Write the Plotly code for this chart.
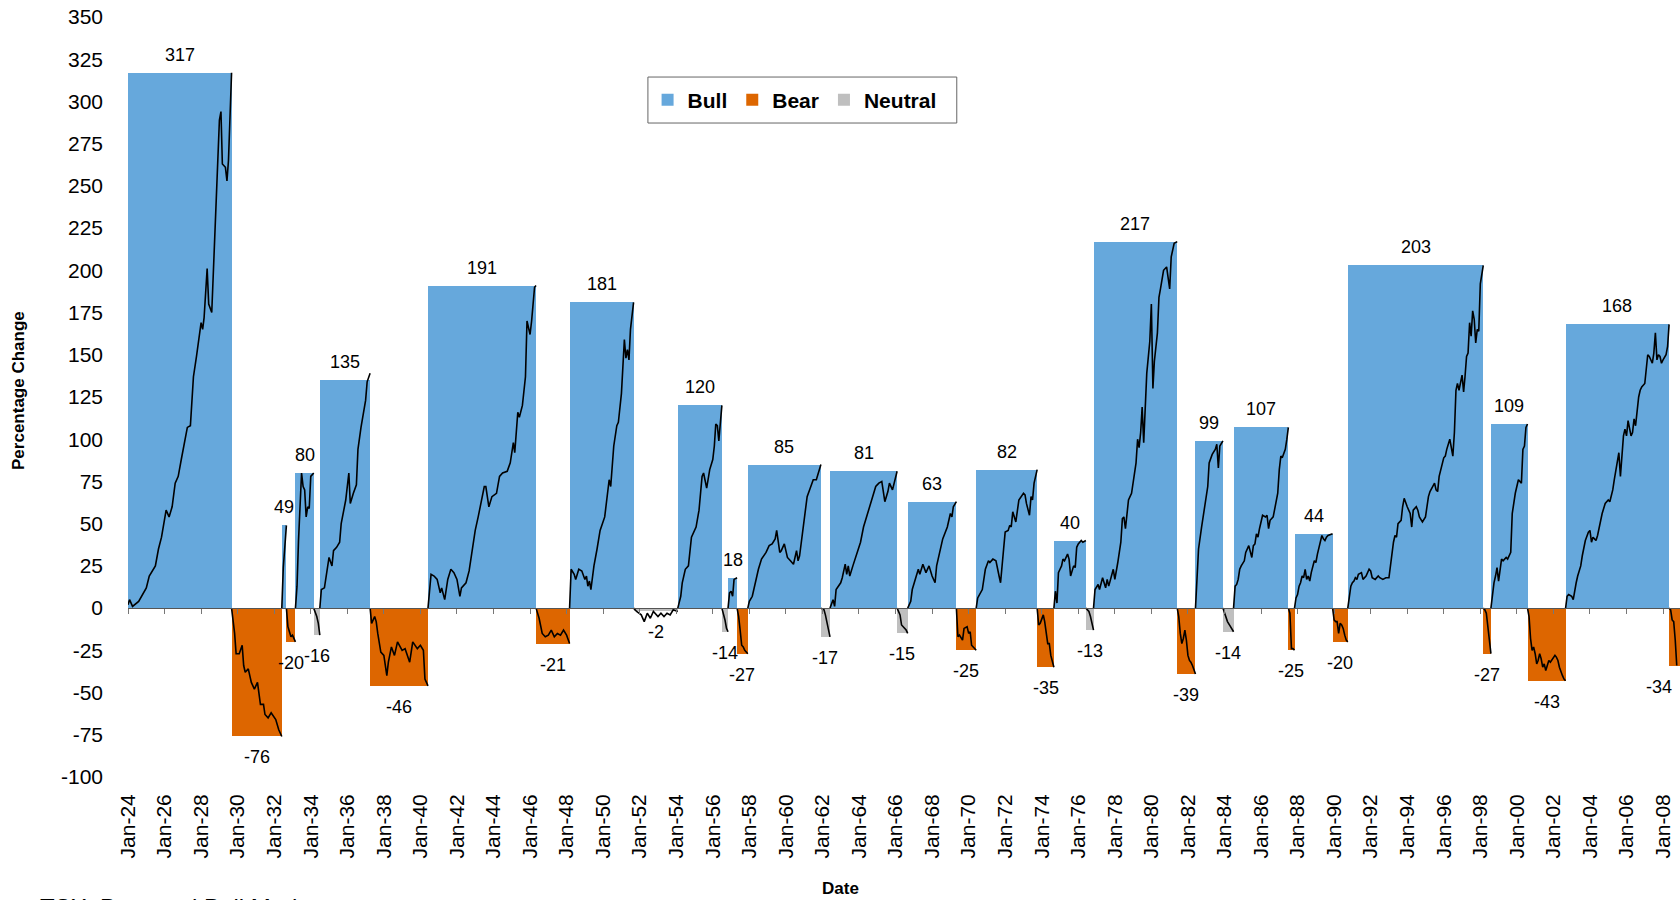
import pandas as pd
import plotly.graph_objects as go

# ---- market phases (TSX, percentage change over each phase) ----
phase_kind = ["Bull", "Bear", "Bull", "Bear", "Bull", "Neutral", "Bull", "Bear", "Bull", "Bear",
              "Bull", "Neutral", "Bull", "Neutral", "Bull", "Bear", "Bull", "Neutral", "Bull", "Neutral",
              "Bull", "Bear", "Bull", "Bear", "Bull", "Neutral", "Bull", "Bear", "Bull", "Neutral",
              "Bull", "Bear", "Bull", "Bear", "Bull", "Bear", "Bull", "Bear", "Bull", "Bear"]
phase_change = [317, -76, 49, -20, 80, -16, 135, -46, 191, -21,
                181, -2, 120, -14, 18, -27, 85, -17, 81, -15,
                63, -25, 82, -35, 40, -13, 217, -39, 99, -14,
                107, -25, 44, -20, 203, -27, 109, -43, 168, -34]
phase_start = ["1924-01", "1929-09", "1932-06", "1932-09", "1933-03", "1934-03", "1934-07", "1937-04",
               "1940-06", "1946-05", "1948-03", "1951-09", "1954-02", "1956-07", "1956-11", "1957-05",
               "1957-12", "1961-12", "1962-06", "1966-02", "1966-09", "1969-05", "1970-06", "1973-10",
               "1974-09", "1976-06", "1976-11", "1981-06", "1982-06", "1983-12", "1984-07", "1987-07",
               "1987-11", "1989-12", "1990-10", "1998-03", "1998-08", "2000-08", "2002-09", "2008-05"]
last_phase_end = "2008-12-05"

# y-axis ticks
y_ticks = list(range(-100, 351, 25))

# ---- cumulative change within each phase, (month, %) ----
p1924_bull = [("1924-01", 2), ("1924-02", 5), ("1924-04", 1), ("1924-08", 4), ("1925-01", 12), ("1925-03", 19),
              ("1925-07", 25), ("1925-09", 35), ("1925-11", 42), ("1926-02", 58), ("1926-04", 54), ("1926-06", 60),
              ("1926-08", 74), ("1926-10", 78), ("1926-12", 88), ("1927-02", 98), ("1927-04", 107), ("1927-06", 108),
              ("1927-07", 123), ("1927-08", 137), ("1927-10", 149), ("1928-01", 169), ("1928-02", 165),
              ("1928-03", 172), ("1928-05", 201), ("1928-06", 180), ("1928-08", 175), ("1928-10", 222),
              ("1928-11", 244), ("1929-01", 289), ("1929-02", 294), ("1929-03", 263), ("1929-05", 261),
              ("1929-06", 253), ("1929-07", 265), ("1929-09", 317)]
p1929_bear = [("1929-09", 0), ("1929-11", -15), ("1929-12", -27), ("1930-02", -27), ("1930-04", -22),
              ("1930-05", -34), ("1930-06", -38), ("1930-08", -36), ("1930-10", -44), ("1930-12", -48),
              ("1931-02", -44), ("1931-04", -57), ("1931-06", -57), ("1931-07", -63), ("1931-09", -65),
              ("1931-11", -62), ("1932-02", -66), ("1932-04", -72), ("1932-06", -76)]
p1932_bull = [("1932-06", 0), ("1932-07", 24), ("1932-09", 49)]
p1932_bear = [("1932-09", 0), ("1932-10", -11), ("1932-11", -14), ("1932-12", -17), ("1933-01", -16), ("1933-03", -20)]
p1933_bull = [("1933-03", 0), ("1933-04", 13), ("1933-05", 40), ("1933-07", 80), ("1933-08", 72), ("1933-09", 70),
              ("1933-10", 54), ("1933-11", 60), ("1933-12", 59), ("1934-01", 78), ("1934-03", 80)]
p1934_flat = [("1934-03", 0), ("1934-04", -2), ("1934-05", -5), ("1934-06", -9), ("1934-07", -16)]
p1934_bull = [("1934-07", 0), ("1934-08", 11), ("1934-10", 12), ("1934-12", 25), ("1935-01", 30), ("1935-03", 25),
              ("1935-04", 34), ("1935-06", 36), ("1935-08", 39), ("1935-09", 50), ("1935-12", 64), ("1936-02", 80),
              ("1936-03", 62), ("1936-05", 68), ("1936-07", 73), ("1936-08", 94), ("1936-10", 107),
              ("1937-01", 123), ("1937-02", 134), ("1937-04", 139)]
p1937_bear = [("1937-04", 0), ("1937-05", -9), ("1937-07", -5), ("1937-08", -8), ("1937-09", -15), ("1937-11", -26),
              ("1938-01", -28), ("1938-03", -40), ("1938-04", -32), ("1938-06", -23), ("1938-08", -28),
              ("1938-10", -20), ("1939-01", -25), ("1939-03", -24), ("1939-06", -32), ("1939-08", -20),
              ("1939-11", -24), ("1940-01", -22), ("1940-03", -25), ("1940-04", -42), ("1940-06", -46)]
p1940_bull = [("1940-06", 0), ("1940-08", 20), ("1940-10", 19), ("1940-12", 17), ("1941-02", 9), ("1941-03", 12),
              ("1941-05", 5), ("1941-07", 17), ("1941-09", 23), ("1941-11", 21), ("1942-01", 17), ("1942-03", 7),
              ("1942-04", 12), ("1942-07", 15), ("1942-09", 22), ("1942-11", 35), ("1943-01", 46), ("1943-03", 54),
              ("1943-07", 72), ("1943-08", 72), ("1943-10", 60), ("1943-12", 66), ("1944-03", 68), ("1944-05", 78),
              ("1944-07", 80), ("1944-10", 81), ("1944-12", 86), ("1945-02", 98), ("1945-03", 92),
              ("1945-05", 116), ("1945-06", 113), ("1945-08", 120), ("1945-10", 137), ("1945-11", 170),
              ("1946-01", 162), ("1946-02", 170), ("1946-04", 190), ("1946-05", 191)]
p1946_bear = [("1946-05", 0), ("1946-07", -6), ("1946-09", -15), ("1946-11", -17), ("1947-01", -16), ("1947-03", -13),
              ("1947-05", -17), ("1947-07", -15), ("1947-09", -16), ("1947-11", -13), ("1948-01", -16),
              ("1948-03", -21)]
p1948_bull = [("1948-03", 0), ("1948-04", 23), ("1948-06", 20), ("1948-07", 17), ("1948-09", 23), ("1948-11", 22),
              ("1949-01", 17), ("1949-02", 19), ("1949-03", 13), ("1949-04", 16), ("1949-05", 11), ("1949-07", 25),
              ("1949-09", 35), ("1949-11", 46), ("1950-02", 54), ("1950-04", 68), ("1950-05", 76), ("1950-06", 72),
              ("1950-07", 82), ("1950-08", 96), ("1950-10", 108), ("1950-11", 110), ("1951-01", 127),
              ("1951-02", 149), ("1951-03", 159), ("1951-04", 148), ("1951-05", 153), ("1951-06", 147),
              ("1951-07", 165), ("1951-09", 181)]
p1951_flat = [("1951-09", 0), ("1951-11", -2), ("1952-02", -4), ("1952-04", -8), ("1952-06", -3), ("1952-08", -6),
              ("1952-10", -2), ("1953-01", -5), ("1953-03", -3), ("1953-05", -5), ("1953-07", -3), ("1953-09", -4),
              ("1953-11", -1), ("1954-02", -2)]
p1954_bull = [("1954-02", 0), ("1954-04", 7), ("1954-05", 15), ("1954-07", 23), ("1954-09", 25), ("1954-11", 42),
              ("1955-02", 48), ("1955-04", 58), ("1955-06", 78), ("1955-07", 80), ("1955-09", 71), ("1955-11", 82),
              ("1956-01", 88), ("1956-02", 96), ("1956-03", 109), ("1956-04", 108), ("1956-05", 99),
              ("1956-07", 120)]
p1956_flat = [("1956-07", 0), ("1956-08", -3), ("1956-09", -7), ("1956-10", -12), ("1956-11", -14)]
p1956_bull = [("1956-11", 0), ("1956-12", 9), ("1957-01", 10), ("1957-02", 7), ("1957-03", 17), ("1957-05", 18)]
p1957_bear = [("1957-05", 0), ("1957-06", -5), ("1957-07", -13), ("1957-08", -22), ("1957-09", -23), ("1957-10", -25),
              ("1957-12", -27)]
p1957_bull = [("1957-12", 0), ("1958-01", 4), ("1958-03", 7), ("1958-05", 15), ("1958-07", 23), ("1958-09", 29),
              ("1958-12", 33), ("1959-02", 37), ("1959-04", 38), ("1959-06", 41), ("1959-07", 46), ("1959-09", 33),
              ("1959-10", 34), ("1959-12", 38), ("1960-02", 30), ("1960-04", 28), ("1960-06", 26), ("1960-08", 34),
              ("1960-09", 28), ("1960-10", 31), ("1961-01", 52), ("1961-03", 66), ("1961-05", 71), ("1961-07", 76),
              ("1961-09", 76), ("1961-12", 85)]
p1961_flat = [("1961-12", 0), ("1962-02", -1), ("1962-03", -4), ("1962-04", -9), ("1962-05", -13), ("1962-06", -17)]
p1962_bull = [("1962-06", 0), ("1962-08", 5), ("1962-09", 1), ("1962-10", 11), ("1963-01", 15), ("1963-02", 18),
              ("1963-04", 26), ("1963-05", 20), ("1963-06", 25), ("1963-07", 19), ("1963-09", 25), ("1963-12", 33),
              ("1964-02", 39), ("1964-04", 48), ("1964-06", 54), ("1964-08", 60), ("1964-12", 72), ("1965-02", 74),
              ("1965-04", 75), ("1965-06", 63), ("1965-08", 69), ("1965-09", 74), ("1965-11", 70), ("1966-02", 81)]
p1966_flat = [("1966-02", 0), ("1966-04", -4), ("1966-05", -10), ("1966-08", -13), ("1966-09", -15)]
p1966_bull = [("1966-09", 0), ("1966-11", 4), ("1966-12", 11), ("1967-02", 17), ("1967-04", 23), ("1967-05", 20),
              ("1967-07", 26), ("1967-09", 21), ("1967-11", 25), ("1968-01", 19), ("1968-03", 15), ("1968-04", 25),
              ("1968-06", 33), ("1968-08", 41), ("1968-11", 48), ("1969-01", 56), ("1969-02", 54), ("1969-03", 60),
              ("1969-05", 63)]
p1969_bear = [("1969-05", 0), ("1969-06", -17), ("1969-07", -16), ("1969-09", -19), ("1969-10", -12),
              ("1969-12", -11), ("1970-01", -15), ("1970-02", -14), ("1970-03", -22), ("1970-05", -24),
              ("1970-06", -25)]
p1970_bull = [("1970-06", 0), ("1970-07", 6), ("1970-10", 11), ("1970-12", 23), ("1971-02", 28), ("1971-03", 27),
              ("1971-05", 29), ("1971-07", 28), ("1971-09", 19), ("1971-10", 15), ("1971-12", 35), ("1972-01", 45),
              ("1972-03", 46), ("1972-04", 49), ("1972-05", 48), ("1972-06", 57), ("1972-08", 51), ("1972-10", 64),
              ("1973-01", 68), ("1973-02", 67), ("1973-03", 62), ("1973-05", 55), ("1973-06", 66), ("1973-07", 64),
              ("1973-08", 74), ("1973-10", 82)]
p1973_bear = [("1973-10", 0), ("1973-11", -10), ("1973-12", -9), ("1974-01", -7), ("1974-02", -4), ("1974-03", -8),
              ("1974-04", -15), ("1974-05", -21), ("1974-06", -21), ("1974-07", -28), ("1974-09", -35)]
p1974_bull = [("1974-09", 0), ("1974-10", 10), ("1974-11", 3), ("1974-12", 21), ("1975-01", 23), ("1975-02", 25),
              ("1975-03", 29), ("1975-04", 28), ("1975-06", 32), ("1975-07", 29), ("1975-08", 19), ("1975-10", 25),
              ("1975-11", 24), ("1975-12", 36), ("1976-01", 38), ("1976-03", 40), ("1976-04", 39), ("1976-06", 40)]
p1976_flat = [("1976-06", 0), ("1976-07", -1), ("1976-08", -2), ("1976-09", -5), ("1976-10", -10), ("1976-11", -13)]
p1976_bull = [("1976-11", 0), ("1976-12", 11), ("1977-02", 14), ("1977-03", 11), ("1977-05", 18), ("1977-07", 12),
              ("1977-08", 17), ("1977-09", 13), ("1977-12", 23), ("1978-01", 17), ("1978-03", 27), ("1978-05", 39),
              ("1978-06", 53), ("1978-07", 54), ("1978-08", 47), ("1978-10", 64), ("1978-12", 68), ("1979-02", 80),
              ("1979-03", 86), ("1979-04", 100), ("1979-05", 95), ("1979-06", 104), ("1979-07", 119),
              ("1979-08", 98), ("1979-09", 121), ("1979-10", 139), ("1979-12", 158), ("1980-01", 180),
              ("1980-02", 130), ("1980-03", 146), ("1980-05", 163), ("1980-06", 184), ("1980-07", 189),
              ("1980-08", 194), ("1980-09", 200), ("1980-11", 202), ("1980-12", 196), ("1981-01", 189),
              ("1981-02", 208), ("1981-03", 213), ("1981-04", 216), ("1981-06", 217)]
p1981_bear = [("1981-06", 0), ("1981-07", -5), ("1981-08", -15), ("1981-09", -21), ("1981-10", -18), ("1981-11", -13),
              ("1981-12", -19), ("1982-01", -28), ("1982-02", -31), ("1982-03", -32), ("1982-04", -34),
              ("1982-05", -37), ("1982-06", -39)]
p1982_bull = [("1982-06", 0), ("1982-07", 19), ("1982-08", 35), ("1982-10", 48), ("1982-12", 60), ("1983-02", 72),
              ("1983-03", 86), ("1983-05", 91), ("1983-07", 94), ("1983-08", 97), ("1983-09", 83), ("1983-10", 96),
              ("1983-12", 99)]
p1983_flat = [("1983-12", 0), ("1984-01", -3), ("1984-03", -8), ("1984-05", -11), ("1984-06", -13), ("1984-07", -14)]
p1984_bull = [("1984-07", 0), ("1984-08", 13), ("1984-09", 14), ("1984-10", 17), ("1984-11", 23), ("1984-12", 25),
              ("1985-02", 28), ("1985-03", 33), ("1985-05", 37), ("1985-07", 30), ("1985-08", 37), ("1985-09", 38),
              ("1985-10", 44), ("1985-11", 42), ("1985-12", 47), ("1986-01", 52), ("1986-02", 55), ("1986-04", 54),
              ("1986-05", 55), ("1986-06", 47), ("1986-07", 52), ("1986-09", 54), ("1986-10", 58), ("1986-12", 68),
              ("1987-01", 82), ("1987-02", 90), ("1987-03", 89), ("1987-04", 92), ("1987-05", 94), ("1987-06", 100),
              ("1987-07", 107)]
p1987_bear = [("1987-07", 0), ("1987-08", -3), ("1987-09", -24), ("1987-10", -24), ("1987-11", -25)]
p1987_bull = [("1987-11", 0), ("1987-12", 6), ("1988-01", 8), ("1988-02", 13), ("1988-03", 15), ("1988-04", 19),
              ("1988-05", 18), ("1988-06", 23), ("1988-07", 17), ("1988-08", 19), ("1988-09", 16), ("1988-10", 21),
              ("1988-12", 28), ("1989-01", 27), ("1989-02", 32), ("1989-03", 36), ("1989-04", 39), ("1989-05", 43),
              ("1989-06", 41), ("1989-07", 40), ("1989-08", 42), ("1989-09", 43), ("1989-12", 44)]
p1989_bear = [("1989-12", 0), ("1990-01", -7), ("1990-02", -8), ("1990-03", -8), ("1990-04", -15), ("1990-05", -9),
              ("1990-06", -10), ("1990-07", -12), ("1990-08", -16), ("1990-09", -19), ("1990-10", -20)]
p1990_bull = [("1990-10", 0), ("1990-11", 7), ("1990-12", 13), ("1991-01", 15), ("1991-02", 16), ("1991-03", 18),
              ("1991-04", 17), ("1991-05", 20), ("1991-07", 21), ("1991-08", 17), ("1991-10", 19), ("1991-12", 23),
              ("1992-01", 22), ("1992-02", 18), ("1992-04", 17), ("1992-06", 19), ("1992-07", 18), ("1992-09", 17),
              ("1992-11", 18), ("1993-01", 18), ("1993-02", 25), ("1993-03", 33), ("1993-04", 39), ("1993-05", 43),
              ("1993-06", 42), ("1993-07", 50), ("1993-09", 52), ("1993-10", 60), ("1993-11", 65), ("1994-01", 60),
              ("1994-02", 58), ("1994-03", 56), ("1994-04", 48), ("1994-05", 58), ("1994-07", 60), ("1994-08", 58),
              ("1994-09", 54), ("1994-11", 51), ("1995-01", 54), ("1995-02", 60), ("1995-03", 66), ("1995-04", 69),
              ("1995-06", 72), ("1995-07", 74), ("1995-08", 70), ("1995-09", 69), ("1995-10", 78), ("1995-11", 82),
              ("1996-01", 89), ("1996-02", 90), ("1996-03", 94), ("1996-05", 100), ("1996-06", 94), ("1996-07", 90),
              ("1996-08", 104), ("1996-09", 129), ("1996-10", 133), ("1996-11", 129), ("1997-01", 138),
              ("1997-02", 128), ("1997-03", 137), ("1997-04", 149), ("1997-05", 151), ("1997-06", 169),
              ("1997-07", 161), ("1997-08", 176), ("1997-09", 171), ("1997-10", 157), ("1997-11", 165),
              ("1997-12", 164), ("1998-01", 192), ("1998-02", 198), ("1998-03", 203)]
p1998_bear = [("1998-03", 0), ("1998-04", -1), ("1998-05", -3), ("1998-06", -11), ("1998-07", -21), ("1998-08", -27)]
p1998_bull = [("1998-08", 0), ("1998-09", 9), ("1998-10", 15), ("1998-11", 19), ("1998-12", 24), ("1999-01", 16),
              ("1999-02", 25), ("1999-03", 29), ("1999-04", 28), ("1999-06", 30), ("1999-07", 29), ("1999-09", 33),
              ("1999-10", 56), ("1999-12", 68), ("2000-02", 76), ("2000-03", 75), ("2000-04", 74), ("2000-05", 94),
              ("2000-06", 96), ("2000-07", 107), ("2000-08", 109)]
p2000_bear = [("2000-08", 0), ("2000-09", -5), ("2000-10", -18), ("2000-11", -25), ("2000-12", -23), ("2001-01", -27),
              ("2001-02", -33), ("2001-03", -31), ("2001-04", -27), ("2001-05", -30), ("2001-06", -35),
              ("2001-07", -33), ("2001-08", -37), ("2001-09", -34), ("2001-10", -31), ("2001-11", -32),
              ("2002-01", -29), ("2002-02", -28), ("2002-03", -29), ("2002-04", -31), ("2002-05", -35),
              ("2002-06", -38), ("2002-07", -40), ("2002-08", -42), ("2002-09", -43)]
p2002_bull = [("2002-09", 0), ("2002-10", 7), ("2002-11", 8), ("2003-01", 7), ("2003-02", 5), ("2003-03", 11),
              ("2003-04", 15), ("2003-05", 19), ("2003-06", 23), ("2003-07", 25), ("2003-08", 31), ("2003-09", 35),
              ("2003-10", 40), ("2003-12", 45), ("2004-01", 46), ("2004-02", 39), ("2004-03", 42), ("2004-04", 41),
              ("2004-05", 40), ("2004-06", 43), ("2004-07", 47), ("2004-08", 52), ("2004-09", 56), ("2004-11", 62),
              ("2005-01", 64), ("2005-02", 63), ("2005-03", 66), ("2005-04", 70), ("2005-05", 76), ("2005-06", 82),
              ("2005-07", 88), ("2005-08", 92), ("2005-09", 78), ("2005-10", 92), ("2005-11", 102),
              ("2005-12", 106), ("2006-01", 102), ("2006-02", 111), ("2006-03", 106), ("2006-04", 102),
              ("2006-05", 104), ("2006-06", 112), ("2006-07", 108), ("2006-08", 119), ("2006-09", 125),
              ("2006-10", 129), ("2006-11", 131), ("2007-01", 133), ("2007-02", 141), ("2007-03", 150),
              ("2007-04", 149), ("2007-05", 147), ("2007-06", 145), ("2007-07", 151), ("2007-08", 163),
              ("2007-09", 147), ("2007-10", 150), ("2007-11", 149), ("2007-12", 145), ("2008-01", 147),
              ("2008-02", 149), ("2008-03", 150), ("2008-04", 155), ("2008-05", 168)]
p2008_bear = [("2008-05", 0), ("2008-06", -1), ("2008-07", -7), ("2008-08", -8), ("2008-09", -19), ("2008-10", -34)]

phase_paths = [p1924_bull, p1929_bear, p1932_bull, p1932_bear, p1933_bull, p1934_flat, p1934_bull, p1937_bear,
               p1940_bull, p1946_bear, p1948_bull, p1951_flat, p1954_bull, p1956_flat, p1956_bull, p1957_bear,
               p1957_bull, p1961_flat, p1962_bull, p1966_flat, p1966_bull, p1969_bear, p1970_bull, p1973_bear,
               p1974_bull, p1976_flat, p1976_bull, p1981_bear, p1982_bull, p1983_flat, p1984_bull, p1987_bear,
               p1987_bull, p1989_bear, p1990_bull, p1998_bear, p1998_bull, p2000_bear, p2002_bull, p2008_bear]

# ---- styling ----
FONT = "Liberation Sans, Arial, sans-serif"
COLORS = {"Bull": "#66A8DC", "Bear": "#DD6600", "Neutral": "#BFBFBF"}
X_START, X_END = "1924-01-01", "2008-12-05"
Y_MIN, Y_MAX = -100, 350

starts = [pd.Timestamp(d) for d in phase_start]
ends = [pd.Timestamp(d) for d in phase_start[1:] + [last_phase_end]]
widths_ms = [(e - s).total_seconds() * 1000 for s, e in zip(starts, ends)]
mids = [s + (e - s) / 2 for s, e in zip(starts, ends)]

fig = go.Figure()

# one bar trace per phase type, each bar spanning its phase
for kind in ["Bull", "Bear", "Neutral"]:
    idx = [i for i, k in enumerate(phase_kind) if k == kind]
    fig.add_trace(go.Bar(
        x=[starts[i] for i in idx],
        y=[phase_change[i] for i in idx],
        width=[widths_ms[i] for i in idx],
        offset=0,
        marker=dict(color=COLORS[kind], line=dict(width=0)),
        name=kind,
        hoverinfo="skip",
        xaxis="x", yaxis="y",
    ))

# index path inside each phase, broken between phases
line_x, line_y = [], []
for path in phase_paths:
    line_x += [pd.Timestamp(d) for d, _ in path] + [None]
    line_y += [v for _, v in path] + [None]
fig.add_trace(go.Scatter(
    x=line_x, y=line_y, mode="lines",
    line=dict(color="black", width=1.6),
    showlegend=False, hoverinfo="skip",
    xaxis="x2", yaxis="y", connectgaps=False,
))

# value labels
annotations = []
for i, (kind, val) in enumerate(zip(phase_kind, phase_change)):
    ann = dict(x=mids[i], y=val, xref="x", yref="y", text=str(val), showarrow=False,
               font=dict(family=FONT, size=18, color="#000"),
               yshift=18 if val > 0 else -21)
    if i == len(phase_change) - 1:
        ann.update(x=pd.Timestamp(X_END), xanchor="right", xshift=-6)
    annotations.append(ann)

# axis titles and source line
annotations += [
    dict(x=0.4588, y=-0.1466, xref="paper", yref="paper", text="<b>Date</b>", showarrow=False,
         xanchor="center", yanchor="middle", font=dict(family=FONT, size=17, color="#000")),
    dict(x=-0.0702, y=0.508, xref="paper", yref="paper", text="<b>Percentage Change</b>", showarrow=False,
         xanchor="center", yanchor="middle", textangle=-90, font=dict(family=FONT, size=17, color="#000")),
    dict(x=-0.058, y=-0.1453, xref="paper", yref="paper", text="TSX: Bear and Bull Markets", showarrow=False,
         xanchor="left", yanchor="top", yshift=-5, font=dict(family=FONT, size=24, color="#000")),
]

zero_pos = (0 - Y_MIN) / (Y_MAX - Y_MIN)

fig.update_layout(
    width=1680, height=900,
    margin=dict(l=128, r=0, t=17, b=123, pad=0),
    paper_bgcolor="white", plot_bgcolor="white",
    barmode="overlay", bargap=0,
    font=dict(family=FONT, size=21, color="#000"),
    showlegend=True,
    legend=dict(orientation="h", x=0.4295, xanchor="center", y=0.8905, yanchor="middle",
                font=dict(family=FONT, size=21, color="#000", weight="bold"),
                borderwidth=0, bgcolor="rgba(0,0,0,0)",
                itemclick=False, itemdoubleclick=False),
    # frame around the legend
    shapes=[dict(type="rect", xref="paper", yref="paper", x0=0.335, x1=0.534, y0=0.8605, y1=0.921,
                 line=dict(color="#666", width=1), fillcolor="white", layer="above")],
    xaxis=dict(type="date", range=[X_START, X_END], tick0="1924-01-01", dtick="M24",
               tickformat="%b-%y", tickangle=-90, ticks="", showline=False, showgrid=False,
               zeroline=False, ticklabelstandoff=12,
               tickfont=dict(family=FONT, size=21, color="#000")),
    xaxis2=dict(type="date", matches="x", overlaying="x", anchor="free", position=zero_pos,
                side="bottom", tick0="1924-01-01", dtick="M24", ticks="outside", ticklen=5,
                tickcolor="#777", showline=True, linecolor="#555", linewidth=1,
                showticklabels=False, showgrid=False, zeroline=False),
    yaxis=dict(range=[Y_MIN, Y_MAX], tickmode="array", tickvals=y_ticks,
               ticktext=[str(v) for v in y_ticks], showgrid=False, zeroline=False, showline=False,
               ticks="", ticklabelstandoff=24,
               tickfont=dict(family=FONT, size=21, color="#000")),
    annotations=annotations,
)

fig.write_html("out.html")
